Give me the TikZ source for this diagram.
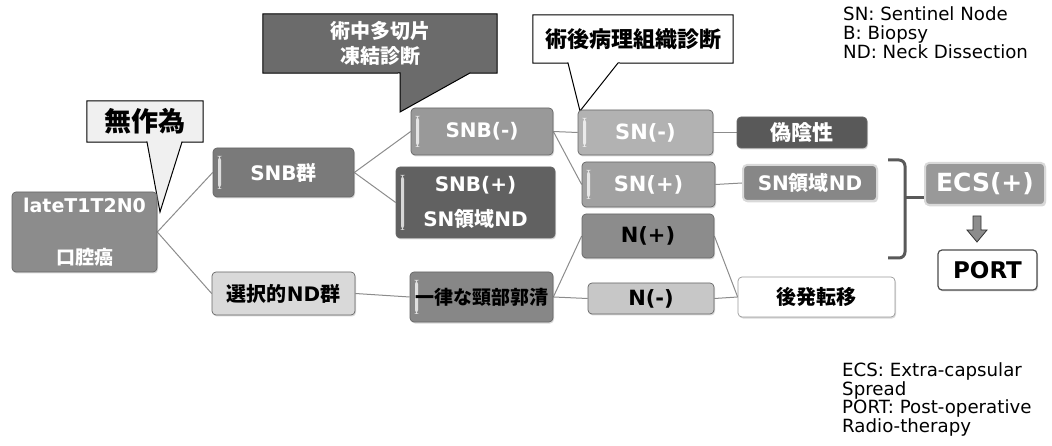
\documentclass[tikz,border=0pt]{standalone}
\usepackage{fontspec}
\setmainfont{DejaVu Sans}
\newfontfamily\lat{DejaVu Sans}
\newfontfamily\cjk{Noto Sans CJK JP}
\usetikzlibrary{calc,backgrounds,shadows}
\newcommand{\fsz}[1]{\fontsize{#1}{#1}\selectfont}
\tikzset{
  bx/.style={rounded corners=4pt, inner sep=0pt, draw=black!60, line width=0.7pt, align=center,
    drop shadow={shadow xshift=1pt, shadow yshift=-1.5pt, opacity=0.3}},
  gloss/.style={path picture={\fill[white,opacity=0.75]
    ($(path picture bounding box.north west)+(5,8)$) rectangle ($(path picture bounding box.south west)+(8,-8)$);}},
  conn/.style={draw=black!45, line width=1pt},
  call/.style={draw=black, line width=1pt},
}
\begin{document}
\begin{tikzpicture}[x=1pt,y=-1pt]
\useasboundingbox (0,0) rectangle (1052,446);
% main
\node[bx, fill=black!45, text=white, minimum width=145, minimum height=80, font=\bfseries\fsz{19}] (main) at (84.5,232) {{\lat lateT1T2N0}\\[33pt]{\cjk 口腔癌}};
% callout 無作為
\node[inner sep=0, minimum width=116, minimum height=41, font=\bfseries\fsz{27}] (mu) at (145,121.5) {\cjk 無作為};
\coordinate (mutip) at (160,212);
% SNB群
\node[bx, gloss, fill=black!52, text=white, minimum width=141, minimum height=49, font=\bfseries\fsz{20}] (snbg) at (283.5,172.5) {{\lat SNB}{\cjk 群}};
% callout 術中
\node[inner sep=0, minimum width=234, minimum height=59, text=white, align=center, font=\bfseries\fsz{20}] (jc) at (380,43.5) {\cjk 術中多切片\\[5pt]\cjk 凍結診断};
\coordinate (jctip) at (400,112);
% SNB(-), SNB(+)
\node[bx, gloss, fill=black!40, text=white, minimum width=142, minimum height=47, font=\bfseries\fsz{20}] (snbm) at (482,131.5) {\lat SNB(-)};
\node[bx, gloss, fill=black!62, text=white, minimum width=159, minimum height=71, font=\bfseries\fsz{20}] (snbp) at (475.5,202.5) {{\lat SNB(+)}\\[15pt]{\lat SN}{\cjk 領域}{\lat ND}};
% callout 術後
\node[inner sep=0, minimum width=200, minimum height=48, font=\bfseries\fsz{22}] (jg) at (633,39) {\cjk 術後病理組織診断};
\coordinate (jgtip) at (580,111);
% SN(-), SN(+), N(+)
\node[bx, gloss, fill=black!30, text=white, minimum width=135, minimum height=45, font=\bfseries\fsz{21}] (snm) at (645.5,132.5) {\lat SN(-)};
\node[bx, gloss, fill=black!37, text=white, minimum width=133, minimum height=45, font=\bfseries\fsz{21}] (snp) at (648.5,184.5) {\lat SN(+)};
\node[bx, fill=black!45, text=black, minimum width=132, minimum height=44, font=\bfseries\fsz{21}] (np) at (648,236) {\lat N(+)};
% lower row
\node[bx, fill=black!15, text=black, minimum width=143, minimum height=43, font=\bfseries\fsz{20}] (sel) at (283.5,293.5) {{\cjk 選択的}{\lat ND}{\cjk 群}};
\node[bx, gloss, fill=black!47, text=black, minimum width=143, minimum height=50, font=\bfseries\fsz{19}] (ich) at (481.5,297) {\cjk 一律な頸部郭清};
\node[bx, fill=black!22, text=black, minimum width=126, minimum height=31, font=\bfseries\fsz{21}] (nm) at (651,298.5) {\lat N(-)};
\node[bx, fill=white, draw=black!40, text=black, minimum width=157, minimum height=40, font=\bfseries\fsz{20}] (late) at (816.5,297) {\cjk 後発転移};
% right column
\node[bx, fill=black!65, text=white, minimum width=130, minimum height=31, font=\bfseries\fsz{21}] (gi) at (802,132.5) {\cjk 偽陰性};
\node[bx, fill=black!47, draw=black!15, line width=2pt, text=white, minimum width=134, minimum height=36, font=\bfseries\fsz{20}] (snr) at (810,183) {{\lat SN}{\cjk 領域}{\lat ND}};
\node[bx, fill=black!40, draw=black!15, line width=2pt, text=white, minimum width=120, minimum height=42, font=\bfseries\fsz{25}] (ecs) at (985,184) {\lat ECS(+)};
\node[bx, fill=white, draw=black!70, line width=1.2pt, text=black, minimum width=99, minimum height=40, font=\bfseries\fsz{23}] (port) at (987.5,270) {\lat PORT};
% block arrow
\fill[black!45, draw=black!80, line width=0.8pt] (973,216) -- (981,216) -- (981,230) -- (987,230) -- (977,242) -- (967,230) -- (973,230) -- cycle;
% bracket
\coordinate (br) at (905,198);
\draw[black!65, line width=3pt, line join=round] (888,160) -- (899,160) to[out=0,in=90] (905,166) -- (905,252) to[out=-90,in=0] (899,258) -- (888,258);
% legends
\node[anchor=north west, align=left, inner sep=0, font=\fontsize{18.2}{18.8}\selectfont] (leg1) at (843,6.5) {SN: Sentinel Node\\B: Biopsy\\ND: Neck Dissection};
\node[anchor=north west, align=left, inner sep=0, font=\fontsize{18.2}{18.5}\selectfont] (leg2) at (842,362.5) {ECS: Extra-capsular\\Spread\\PORT: Post-operative\\Radio-therapy};
\begin{scope}[on background layer]
  \draw[call, fill=black!6] (mu.north west) -- (mu.north east) -- (mu.south east) -- (182,142) -- (mutip) -- (147,142) -- (mu.south west) -- cycle;
  \draw[call, fill=black!58] (jc.north west) -- (jc.north east) -- (jc.south east) -- (470,73) -- (jctip) -- (400,73) -- (jc.south west) -- cycle;
  \draw[call, fill=white] (jg.north west) -- (jg.north east) -- (jg.south east) -- (618,63) -- (jgtip) -- (568,63) -- (jg.south west) -- cycle;
  \draw[conn] (main.east) -- (snbg.west);
  \draw[conn] (main.east) -- (sel.west);
  \draw[conn] (snbg.east) -- (snbm.west);
  \draw[conn] (snbg.east) -- (snbp.west);
  \draw[conn] (snbm.east) -- (snm.west);
  \draw[conn] (snbm.east) -- (snp.west);
  \draw[conn] (sel.east) -- (ich.west);
  \draw[conn] (ich.east) -- (np.west);
  \draw[conn] (ich.east) -- (nm.west);
  \draw[conn] (snm.east) -- (gi.west);
  \draw[conn] (snp.east) -- (snr.west);
  \draw[conn] (np.east) -- (late.west);
  \draw[conn] (nm.east) -- (late.west);
  \draw[black!65, line width=3pt] (br) -- ([yshift=-14pt]ecs.west);
\end{scope}
\end{tikzpicture}
\end{document}
